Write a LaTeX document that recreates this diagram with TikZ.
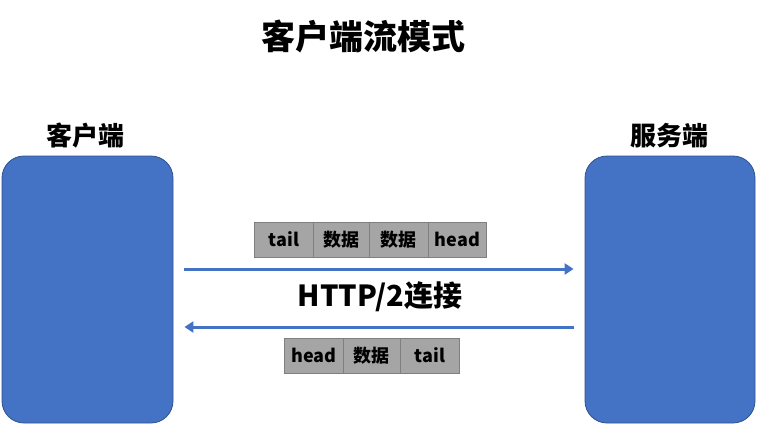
\documentclass[tikz,border=0pt]{standalone}
\usepackage{fontspec}
\setmainfont{Noto Sans CJK SC}
\usetikzlibrary{arrows.meta}
\definecolor{boxblue}{HTML}{4472C4}
\definecolor{boxedge}{HTML}{2F528F}
\definecolor{cellgray}{HTML}{A5A5A5}
\definecolor{celledge}{HTML}{7F7F7F}
\tikzset{
  endbox/.style={draw=boxedge, line width=0.8pt, fill=boxblue, rounded corners=22pt, minimum height=267pt, inner sep=0pt},
  cell/.style={draw=celledge, line width=0.8pt, fill=cellgray, minimum height=35pt, inner sep=0pt, anchor=west, font=\bfseries\fontsize{18}{20}\selectfont},
  arr/.style={draw=boxblue, line width=3pt, -{Triangle[length=9pt,width=11pt]}},
  bigtitle/.style={font=\bfseries\fontsize{34}{38}\selectfont},
  sidelabel/.style={font=\bfseries\fontsize{26}{30}\selectfont},
  connlabel/.style={font=\bfseries\fontsize{29}{32}\selectfont},
}
\begin{document}
\begin{tikzpicture}[x=1pt,y=-1pt]
\useasboundingbox (0,0) rectangle (773,428);
\node[bigtitle] (title) at (363,36) {客户端流模式};
\node[sidelabel] (clientlabel) at (85,136) {客户端};
\node[sidelabel] (serverlabel) at (669,136) {服务端};
\node[endbox, minimum width=171pt] (client) at (87.5,289.5) {};
\node[endbox, minimum width=170pt] (server) at (670,289.5) {};
% top packet
\node[cell, minimum width=59pt] (t1) at (254,239.5) {tail};
\node[cell, minimum width=56pt] (t2) at (313,239.5) {数据};
\node[cell, minimum width=59pt] (t3) at (369,239.5) {数据};
\node[cell, minimum width=58pt] (t4) at (428,239.5) {head};
% bottom packet
\node[cell, minimum width=59pt] (b1) at (284,355.5) {head};
\node[cell, minimum width=57pt] (b2) at (343,355.5) {数据};
\node[cell, minimum width=59pt] (b3) at (400,355.5) {tail};
\node[connlabel] (conn) at (380,297) {HTTP/2连接};
\draw[arr] ([xshift=11pt,yshift=20.5pt]client.east) -- ([xshift=-11pt,yshift=20.5pt]server.west);
\draw[arr] ([xshift=-11pt,yshift=-37.5pt]server.west) -- ([xshift=11pt,yshift=-37.5pt]client.east);
\end{tikzpicture}
\end{document}
